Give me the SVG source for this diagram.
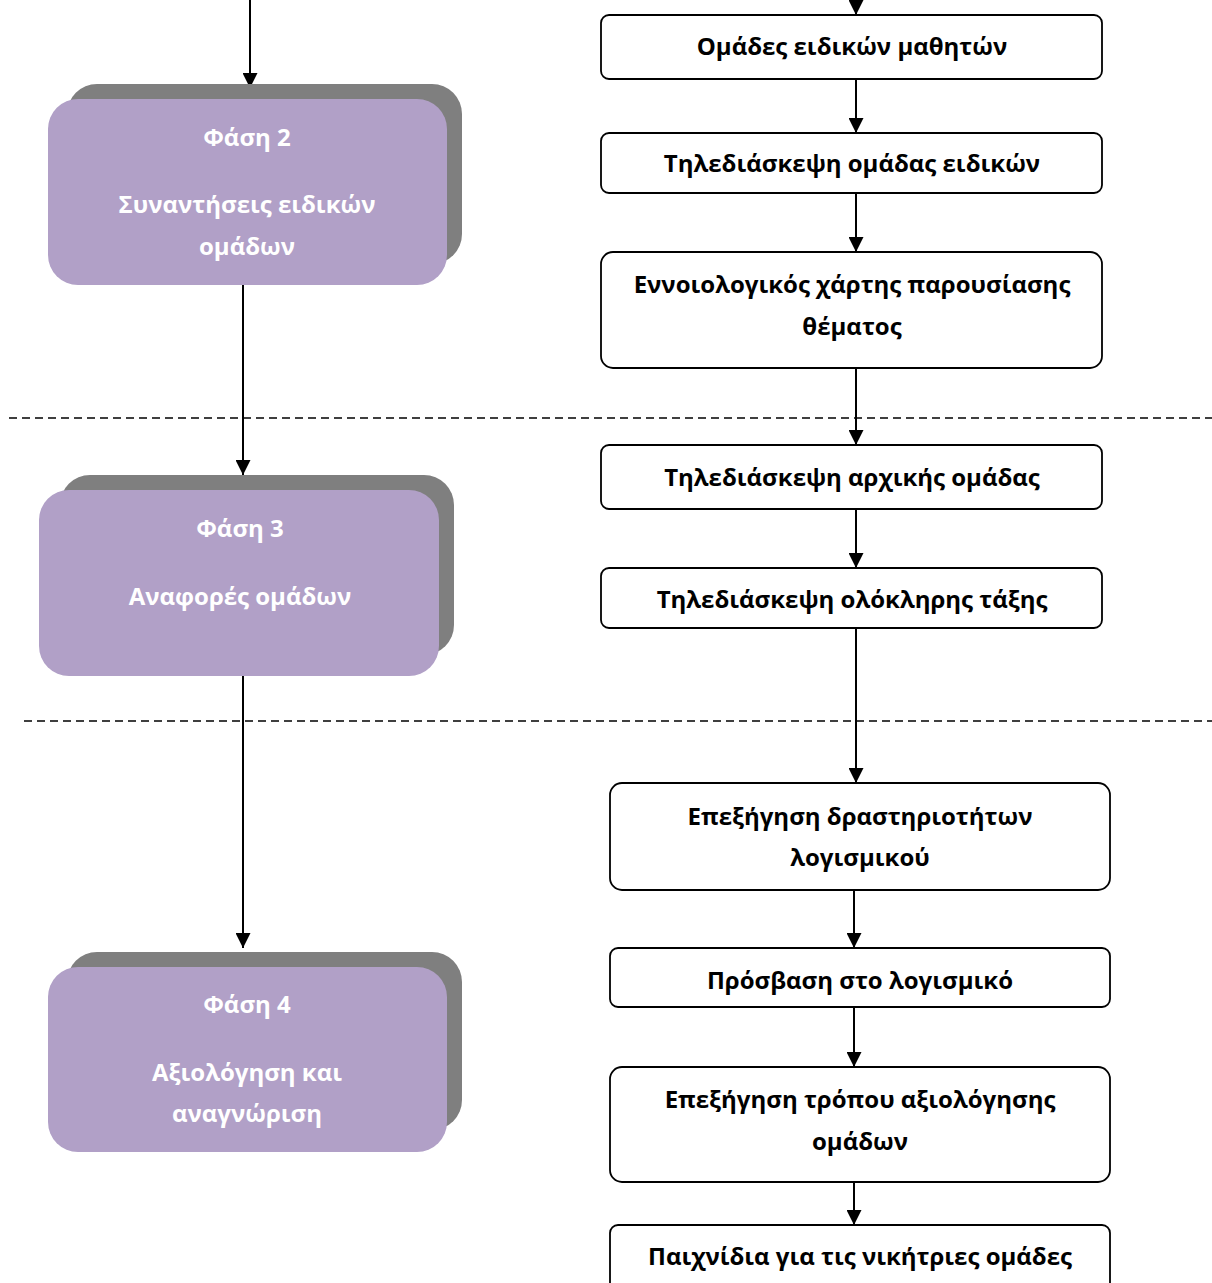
<svg xmlns="http://www.w3.org/2000/svg" width="1212" height="1283" viewBox="0 0 1212 1283">
<style>
.bg{fill:#ffffff}
.shadow{fill:#7f7f7f}
.phase{fill:#b1a0c7}
.box{fill:#ffffff;stroke:#000000;stroke-width:1.8}
.pt{font-family:"Open Sans","Noto Sans","DejaVu Sans",sans-serif;font-weight:bold;font-size:24px;fill:#ffffff;text-anchor:middle}
.bt{font-family:"Open Sans","Noto Sans","DejaVu Sans",sans-serif;font-weight:bold;font-size:24px;fill:#000000;text-anchor:middle}
.conn{stroke:#000000;stroke-width:2;fill:none}
.dash{stroke:#000000;stroke-width:1.3;stroke-dasharray:8,5;fill:none}
</style>
<defs>
<marker id="ah" markerUnits="userSpaceOnUse" markerWidth="15" markerHeight="15" refX="15" refY="7.5" orient="auto">
<path d="M0,0 L15,7.5 L0,15 z" fill="#000000"/>
</marker>
</defs>
<rect class="bg" x="0" y="0" width="1212" height="1283"/>

<g id="separators">
<line class="dash" x1="9" y1="418" x2="1212" y2="418"/>
<line class="dash" x1="24" y1="721" x2="1212" y2="721"/>
</g>

<g id="connectors">
<line class="conn" x1="250" y1="0" x2="250" y2="88" marker-end="url(#ah)"/>
<line class="conn" x1="243" y1="285" x2="243" y2="475" marker-end="url(#ah)"/>
<line class="conn" x1="243" y1="676" x2="243" y2="948" marker-end="url(#ah)"/>
<line class="conn" x1="856" y1="0" x2="856" y2="15" marker-end="url(#ah)"/>
<line class="conn" x1="856" y1="79" x2="856" y2="133" marker-end="url(#ah)"/>
<line class="conn" x1="856" y1="193" x2="856" y2="252" marker-end="url(#ah)"/>
<line class="conn" x1="856" y1="368" x2="856" y2="445" marker-end="url(#ah)"/>
<line class="conn" x1="856" y1="509" x2="856" y2="568" marker-end="url(#ah)"/>
<line class="conn" x1="856" y1="628" x2="856" y2="783" marker-end="url(#ah)"/>
<line class="conn" x1="854" y1="890" x2="854" y2="948" marker-end="url(#ah)"/>
<line class="conn" x1="854" y1="1007" x2="854" y2="1067" marker-end="url(#ah)"/>
<line class="conn" x1="854" y1="1182" x2="854" y2="1225" marker-end="url(#ah)"/>
</g>

<g id="phase2">
<rect class="shadow" x="67" y="84" width="395" height="180" rx="30"/>
<rect class="phase" x="48" y="99" width="399" height="186" rx="30"/>
<text class="pt" x="247" y="146">Φάση 2</text>
<text class="pt" x="247" y="213">Συναντήσεις ειδικών</text>
<text class="pt" x="247" y="255">ομάδων</text>
</g>

<g id="phase3">
<rect class="shadow" x="60" y="475" width="394" height="180" rx="30"/>
<rect class="phase" x="39" y="490" width="400" height="186" rx="30"/>
<text class="pt" x="240" y="537">Φάση 3</text>
<text class="pt" x="240" y="605">Αναφορές ομάδων</text>
</g>

<g id="phase4">
<rect class="shadow" x="67" y="952" width="395" height="178" rx="30"/>
<rect class="phase" x="48" y="967" width="399" height="185" rx="30"/>
<text class="pt" x="247" y="1013">Φάση 4</text>
<text class="pt" x="247" y="1081">Αξιολόγηση και</text>
<text class="pt" x="247" y="1122">αναγνώριση</text>
</g>

<g id="box1">
<rect class="box" x="601" y="15" width="501" height="64" rx="8"/>
<text class="bt" x="852" y="55">Ομάδες ειδικών μαθητών</text>
</g>
<g id="box2">
<rect class="box" x="601" y="133" width="501" height="60" rx="8"/>
<text class="bt" x="852" y="172">Τηλεδιάσκεψη ομάδας ειδικών</text>
</g>
<g id="box3">
<rect class="box" x="601" y="252" width="501" height="116" rx="12"/>
<text class="bt" x="852" y="293">Εννοιολογικός χάρτης παρουσίασης</text>
<text class="bt" x="852" y="335">θέματος</text>
</g>
<g id="box4">
<rect class="box" x="601" y="445" width="501" height="64" rx="8"/>
<text class="bt" x="852" y="486">Τηλεδιάσκεψη αρχικής ομάδας</text>
</g>
<g id="box5">
<rect class="box" x="601" y="568" width="501" height="60" rx="8"/>
<text class="bt" x="852" y="608">Τηλεδιάσκεψη ολόκληρης τάξης</text>
</g>
<g id="box6">
<rect class="box" x="610" y="783" width="500" height="107" rx="12"/>
<text class="bt" x="860" y="825">Επεξήγηση δραστηριοτήτων</text>
<text class="bt" x="860" y="866">λογισμικού</text>
</g>
<g id="box7">
<rect class="box" x="610" y="948" width="500" height="59" rx="8"/>
<text class="bt" x="860" y="989">Πρόσβαση στο λογισμικό</text>
</g>
<g id="box8">
<rect class="box" x="610" y="1067" width="500" height="115" rx="12"/>
<text class="bt" x="860" y="1108">Επεξήγηση τρόπου αξιολόγησης</text>
<text class="bt" x="860" y="1150">ομάδων</text>
</g>
<g id="box9">
<rect class="box" x="610" y="1225" width="500" height="70" rx="8"/>
<text class="bt" x="860" y="1265">Παιχνίδια για τις νικήτριες ομάδες</text>
</g>
</svg>
